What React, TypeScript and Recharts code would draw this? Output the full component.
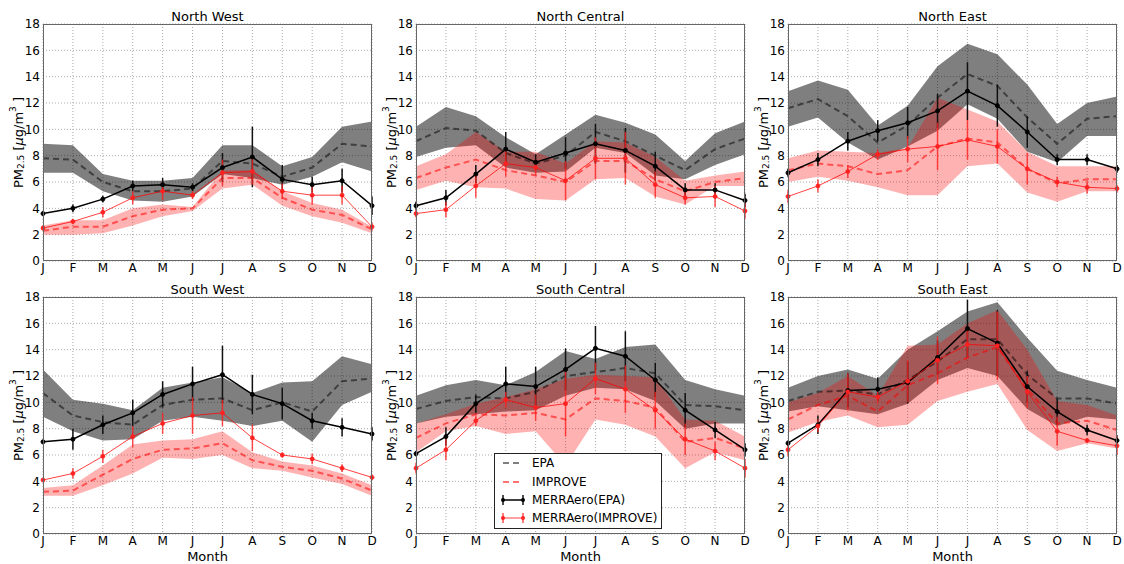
import React from 'react';
import { ComposedChart, Line, Area, XAxis, YAxis, CartesianGrid, ErrorBar } from 'recharts';

const months = ['J', 'F', 'M', 'A', 'M', 'J', 'J', 'A', 'S', 'O', 'N', 'D'];
const monthIdx = [0, 1, 2, 3, 4, 5, 6, 7, 8, 9, 10, 11];
const yTicks = [0, 2, 4, 6, 8, 10, 12, 14, 16, 18];

// North West
const nwEpa = [7.8, 7.7, 6.0, 5.3, 5.3, 5.5, 7.6, 7.4, 6.4, 7.1, 8.9, 8.7];
const nwEpaHi = [8.9, 8.8, 6.6, 6.1, 6.1, 6.3, 8.8, 8.8, 7.2, 7.9, 10.2, 10.6];
const nwEpaLo = [6.7, 6.7, 5.3, 4.6, 4.5, 4.9, 6.6, 6.3, 5.8, 6.4, 7.5, 6.8];
const nwImp = [2.3, 2.6, 2.6, 3.4, 3.9, 4.0, 6.3, 6.3, 4.8, 3.9, 3.5, 2.4];
const nwImpHi = [2.7, 3.1, 3.1, 4.0, 4.3, 4.1, 6.9, 6.9, 5.3, 4.4, 3.9, 2.6];
const nwImpLo = [2.0, 2.0, 2.1, 2.7, 3.4, 3.8, 5.5, 5.8, 4.2, 3.4, 2.9, 2.1];
const nwMe = [3.6, 4.0, 4.7, 5.7, 5.8, 5.6, 7.1, 7.9, 6.2, 5.8, 6.1, 4.2];
const nwMeErr = [0.1, 0.3, 0.25, 0.4, 0.5, 0.3, 1.1, 2.3, 1.1, 0.6, 0.9, 0.7];
const nwMi = [2.5, 3.0, 3.7, 4.8, 5.3, 5.0, 6.7, 6.8, 5.3, 5.0, 5.0, 2.6];
const nwMiErr = [0.2, 0.2, 0.4, 0.5, 0.7, 0.3, 1.0, 1.0, 0.6, 0.7, 0.7, 0.3];

// North Central
const ncEpa = [9.1, 10.1, 9.9, 8.2, 7.4, 8.0, 9.8, 9.1, 8.0, 6.9, 8.5, 9.3];
const ncEpaHi = [10.2, 11.7, 11.0, 9.4, 8.1, 9.6, 11.1, 10.5, 9.6, 7.6, 9.7, 10.6];
const ncEpaLo = [7.9, 8.6, 8.8, 7.1, 6.7, 6.8, 8.6, 8.2, 6.5, 6.2, 7.3, 8.1];
const ncImp = [6.3, 7.1, 7.7, 6.9, 6.5, 6.0, 7.6, 7.6, 6.2, 5.3, 6.0, 6.3];
const ncImpHi = [7.2, 8.1, 9.8, 8.3, 8.3, 7.4, 9.1, 9.0, 7.9, 6.1, 6.5, 6.8];
const ncImpLo = [5.4, 6.1, 5.6, 5.5, 4.7, 4.6, 6.2, 6.3, 4.9, 4.3, 5.7, 5.7];
const ncMe = [4.2, 4.8, 6.6, 8.5, 7.5, 8.2, 8.9, 8.4, 7.2, 5.4, 5.4, 4.6];
const ncMeErr = [0.3, 0.6, 0.7, 1.3, 0.6, 1.2, 1.5, 1.7, 1.1, 0.5, 0.5, 0.5];
const ncMi = [3.6, 3.9, 5.7, 7.4, 7.1, 6.1, 7.8, 7.8, 5.8, 4.8, 4.9, 3.8];
const ncMiErr = [0.3, 0.6, 0.9, 1.0, 0.6, 1.5, 1.6, 2.0, 1.0, 0.5, 0.8, 0.6];

// North East
const neEpa = [11.6, 12.3, 11.0, 9.0, 10.3, 12.4, 14.2, 13.3, 10.9, 8.9, 10.8, 11.0];
const neEpaHi = [12.9, 13.7, 13.0, 10.3, 11.8, 14.8, 16.5, 15.7, 13.4, 10.4, 12.0, 12.5];
const neEpaLo = [10.2, 10.9, 9.0, 7.7, 8.7, 9.9, 11.9, 10.8, 8.3, 7.5, 9.5, 9.5];
const neImp = [6.9, 7.4, 7.2, 6.6, 6.9, 8.7, 9.3, 9.0, 7.0, 5.9, 6.2, 6.2];
const neImpHi = [7.8, 8.4, 8.3, 8.2, 8.6, 12.4, 11.5, 10.6, 8.3, 7.2, 7.2, 7.2];
const neImpLo = [6.0, 6.4, 6.1, 5.6, 5.0, 5.0, 7.2, 7.4, 5.2, 4.5, 5.3, 5.3];
const neMe = [6.7, 7.7, 9.1, 9.9, 10.5, 11.4, 12.9, 11.8, 9.8, 7.7, 7.7, 7.0];
const neMeErr = [0.3, 0.5, 0.7, 0.8, 1.2, 1.3, 2.2, 1.6, 1.2, 0.4, 0.4, 0.3];
const neMi = [4.9, 5.7, 6.8, 8.1, 8.5, 8.7, 9.2, 8.7, 7.0, 6.0, 5.6, 5.5];
const neMiErr = [0.5, 0.5, 0.5, 0.4, 1.0, 1.8, 1.5, 1.3, 1.2, 0.4, 0.5, 0.3];

// South West
const swEpa = [10.7, 9.0, 8.5, 8.3, 9.8, 10.2, 10.3, 9.4, 10.0, 9.3, 11.6, 11.8];
const swEpaHi = [12.5, 10.2, 9.9, 9.4, 11.1, 11.5, 11.9, 10.7, 11.5, 11.6, 13.5, 12.9];
const swEpaLo = [8.9, 7.8, 7.1, 7.2, 8.6, 8.9, 8.6, 8.2, 8.6, 7.0, 9.8, 10.8];
const swImp = [3.2, 3.3, 4.5, 5.7, 6.4, 6.5, 6.9, 5.6, 5.1, 4.8, 4.2, 3.3];
const swImpHi = [3.5, 3.7, 5.2, 6.8, 7.1, 7.2, 7.8, 6.2, 5.5, 5.2, 4.6, 3.7];
const swImpLo = [2.9, 2.9, 3.7, 4.6, 5.8, 5.7, 6.0, 5.0, 4.8, 4.3, 3.8, 2.9];
const swMe = [7.0, 7.2, 8.3, 9.2, 10.6, 11.4, 12.1, 10.6, 9.9, 8.6, 8.1, 7.6];
const swMeErr = [0.05, 0.8, 0.7, 1.0, 1.0, 1.3, 2.2, 1.5, 1.2, 0.6, 0.7, 0.5];
const swMi = [4.1, 4.6, 5.9, 7.4, 8.4, 9.0, 9.2, 7.3, 6.0, 5.7, 5.0, 4.3];
const swMiErr = [0.1, 0.4, 0.5, 0.8, 0.8, 1.4, 1.0, 1.0, 0.2, 0.4, 0.3, 0.2];

// South Central
const scEpa = [9.5, 10.1, 10.4, 10.3, 10.8, 12.0, 12.3, 12.6, 12.2, 9.8, 9.7, 9.4];
const scEpaHi = [10.5, 11.3, 11.7, 11.3, 12.3, 13.9, 13.3, 14.2, 14.4, 11.7, 11.0, 10.5];
const scEpaLo = [8.4, 8.9, 9.1, 9.3, 9.4, 10.5, 11.1, 11.0, 10.1, 8.0, 8.4, 8.4];
const scImp = [7.3, 8.4, 9.1, 9.0, 9.2, 8.7, 10.3, 10.1, 9.6, 7.0, 7.3, 6.5];
const scImpHi = [8.4, 9.1, 9.9, 10.4, 11.0, 11.8, 12.1, 12.0, 11.9, 8.7, 8.6, 7.4];
const scImpLo = [6.2, 7.8, 8.2, 7.6, 7.8, 5.2, 8.7, 8.3, 7.4, 5.0, 6.2, 5.6];
const scMe = [6.1, 7.4, 9.9, 11.4, 11.2, 12.5, 14.1, 13.5, 11.7, 9.4, 7.9, 6.4];
const scMeErr = [0.2, 0.7, 0.7, 1.3, 1.5, 1.6, 1.7, 1.9, 1.3, 1.3, 0.6, 0.5];
const scMi = [5.0, 6.4, 8.6, 10.2, 9.6, 9.9, 11.8, 11.0, 9.4, 7.2, 6.3, 5.0];
const scMiErr = [0.4, 0.8, 0.4, 0.6, 1.0, 2.5, 1.2, 1.8, 1.4, 1.2, 0.7, 0.7];

// South East
const seEpa = [10.1, 10.8, 10.9, 10.6, 11.7, 13.1, 14.8, 14.8, 12.1, 10.3, 10.3, 9.9];
const seEpaHi = [11.1, 12.0, 12.5, 11.8, 14.0, 15.4, 16.9, 17.6, 14.9, 12.4, 11.7, 11.1];
const seEpaLo = [9.3, 9.7, 9.4, 9.1, 9.9, 11.7, 12.6, 12.0, 9.5, 8.2, 8.9, 8.7];
const seImp = [8.7, 9.8, 10.5, 9.3, 11.3, 12.2, 13.4, 14.2, 11.0, 8.4, 8.6, 7.9];
const seImpHi = [10.0, 10.7, 12.0, 10.5, 14.3, 14.4, 16.0, 17.0, 14.0, 10.1, 9.8, 9.0];
const seImpLo = [7.7, 8.5, 9.0, 8.1, 8.3, 10.1, 10.8, 11.4, 7.9, 6.3, 6.9, 6.5];
const seMe = [6.9, 8.3, 10.9, 11.0, 11.5, 13.4, 15.6, 14.5, 11.2, 9.3, 7.9, 7.1];
const seMeErr = [0.2, 0.7, 1.3, 0.9, 1.6, 1.3, 2.2, 2.5, 1.2, 1.0, 0.4, 0.4];
const seMi = [6.4, 8.2, 10.8, 10.4, 11.6, 13.2, 14.4, 14.3, 10.8, 7.8, 7.1, 6.7];
const seMiErr = [0.5, 0.5, 1.4, 0.5, 1.6, 1.8, 1.1, 2.6, 1.2, 1.1, 0.2, 0.7];

type Region = {
  title: string;
  epa: number[]; epaLo: number[]; epaHi: number[];
  imp: number[]; impLo: number[]; impHi: number[];
  me: number[]; meErr: number[]; mi: number[]; miErr: number[];
};

const regions: Region[] = [
  { title: 'North West', epa: nwEpa, epaLo: nwEpaLo, epaHi: nwEpaHi, imp: nwImp, impLo: nwImpLo, impHi: nwImpHi, me: nwMe, meErr: nwMeErr, mi: nwMi, miErr: nwMiErr },
  { title: 'North Central', epa: ncEpa, epaLo: ncEpaLo, epaHi: ncEpaHi, imp: ncImp, impLo: ncImpLo, impHi: ncImpHi, me: ncMe, meErr: ncMeErr, mi: ncMi, miErr: ncMiErr },
  { title: 'North East', epa: neEpa, epaLo: neEpaLo, epaHi: neEpaHi, imp: neImp, impLo: neImpLo, impHi: neImpHi, me: neMe, meErr: neMeErr, mi: neMi, miErr: neMiErr },
  { title: 'South West', epa: swEpa, epaLo: swEpaLo, epaHi: swEpaHi, imp: swImp, impLo: swImpLo, impHi: swImpHi, me: swMe, meErr: swMeErr, mi: swMi, miErr: swMiErr },
  { title: 'South Central', epa: scEpa, epaLo: scEpaLo, epaHi: scEpaHi, imp: scImp, impLo: scImpLo, impHi: scImpHi, me: scMe, meErr: scMeErr, mi: scMi, miErr: scMiErr },
  { title: 'South East', epa: seEpa, epaLo: seEpaLo, epaHi: seEpaHi, imp: seImp, impLo: seImpLo, impHi: seImpHi, me: seMe, meErr: seMeErr, mi: seMi, miErr: seMiErr },
];

const FONT = 'DejaVu Sans, Verdana, sans-serif';
const PLOT_LEFT = [43, 416, 788];
const PLOT_TOP = [24, 297];
const PLOT_W = 329;
const PLOT_H = 237;
const tickStyle = { fontSize: 12, fill: '#000', fontFamily: FONT };

function Panel({ r, plotLeft, plotTop }: { r: Region; plotLeft: number; plotTop: number }) {
  const data = monthIdx.map(i => ({
    x: i,
    epaBand: [r.epaLo[i], r.epaHi[i]],
    impBand: [r.impLo[i], r.impHi[i]],
    epa: r.epa[i],
    imp: r.imp[i],
    me: r.me[i],
    meErr: r.meErr[i],
    mi: r.mi[i],
    miErr: r.miErr[i],
  }));

  return (
    <div style={{ position: 'absolute', left: plotLeft - 42, top: plotTop - 24 }}>
      <ComposedChart width={381} height={283} data={data} margin={{ top: 24, right: 10, left: 12, bottom: 2 }}>
        <CartesianGrid stroke="#aaa" strokeDasharray="1 2" />
        <XAxis
          dataKey="x"
          type="number"
          domain={[0, 11]}
          ticks={monthIdx}
          interval={0}
          tickFormatter={(v: number) => months[v]}
          axisLine={false}
          tickLine={false}
          tickSize={0}
          tickMargin={2}
          height={20}
          tick={tickStyle}
        />
        <YAxis
          type="number"
          domain={[0, 18]}
          ticks={yTicks}
          interval={0}
          width={30}
          axisLine={false}
          tickLine={false}
          tickSize={0}
          tickMargin={3}
          tick={tickStyle}
        />
        <Area dataKey="epaBand" stroke="none" fill="#000" fillOpacity={0.5} dot={false} activeDot={false} isAnimationActive={false} />
        <Area dataKey="impBand" stroke="none" fill="#ff0000" fillOpacity={0.3} dot={false} activeDot={false} isAnimationActive={false} />
        <Line dataKey="epa" stroke="#000" strokeOpacity={0.5} strokeWidth={2} strokeDasharray="6 4" dot={false} activeDot={false} isAnimationActive={false} />
        <Line dataKey="imp" stroke="#ff0000" strokeOpacity={0.55} strokeWidth={2} strokeDasharray="6 4" dot={false} activeDot={false} isAnimationActive={false} />
        <Line dataKey="me" stroke="#000" strokeWidth={1.5} dot={{ r: 2, fill: '#000', stroke: '#000', strokeWidth: 1 }} activeDot={false} isAnimationActive={false}>
          <ErrorBar dataKey="meErr" width={0} stroke="#111" strokeWidth={1.5} direction="y" isAnimationActive={false} />
        </Line>
        <Line dataKey="mi" stroke="#ff0000" strokeOpacity={0.75} strokeWidth={1} dot={{ r: 2, fill: '#ff2020', stroke: '#ff2020', strokeWidth: 1 }} activeDot={false} isAnimationActive={false}>
          <ErrorBar dataKey="miErr" width={0} stroke="#ff2020" strokeOpacity={0.8} strokeWidth={1.5} direction="y" isAnimationActive={false} />
        </Line>
      </ComposedChart>
    </div>
  );
}

function Legend() {
  const rows = [9, 28, 46, 64];
  return (
    <svg width={168} height={76} style={{ position: 'absolute', left: 494, top: 453, background: '#fff', border: '1px solid #222', boxSizing: 'border-box' }}>
      <line x1={8} x2={28} y1={rows[0]} y2={rows[0]} stroke="#000" strokeOpacity={0.5} strokeWidth={2} strokeDasharray="6 4" />
      <line x1={8} x2={28} y1={rows[1]} y2={rows[1]} stroke="#ff0000" strokeOpacity={0.55} strokeWidth={2} strokeDasharray="6 4" />
      <line x1={8} x2={28} y1={rows[2]} y2={rows[2]} stroke="#000" strokeWidth={1.5} />
      {[8, 28].map(x => (
        <g key={'k' + x}>
          <line x1={x} x2={x} y1={rows[2] - 5} y2={rows[2] + 5} stroke="#111" strokeWidth={1.5} />
          <circle cx={x} cy={rows[2]} r={2} fill="#000" />
        </g>
      ))}
      <line x1={8} x2={28} y1={rows[3]} y2={rows[3]} stroke="#ff0000" strokeOpacity={0.75} strokeWidth={1} />
      {[8, 28].map(x => (
        <g key={'r' + x}>
          <line x1={x} x2={x} y1={rows[3] - 5} y2={rows[3] + 5} stroke="#ff2020" strokeOpacity={0.8} strokeWidth={1.5} />
          <circle cx={x} cy={rows[3]} r={2} fill="#ff2020" />
        </g>
      ))}
      {['EPA', 'IMPROVE', 'MERRAero(EPA)', 'MERRAero(IMPROVE)'].map((t, i) => (
        <text key={t} x={37} y={rows[i]} dominantBaseline="central" fontSize={12} fontFamily={FONT} fill="#000">{t}</text>
      ))}
    </svg>
  );
}

export default function App() {
  return (
    <div style={{ position: 'absolute', left: 0, top: 0, width: 1124, height: 564, background: '#fff', overflow: 'hidden' }}>
      {regions.map((r, i) => (
        <Panel key={r.title} r={r} plotLeft={PLOT_LEFT[i % 3]} plotTop={PLOT_TOP[Math.floor(i / 3)]} />
      ))}
      <svg width={1124} height={564} style={{ position: 'absolute', left: 0, top: 0, pointerEvents: 'none' }}>
        {regions.map((r, i) => {
          const px = PLOT_LEFT[i % 3];
          const py = PLOT_TOP[Math.floor(i / 3)];
          const cy = py + PLOT_H / 2;
          const lx = px - 25;
          return (
            <g key={r.title}>
              <rect x={px + 0.5} y={py + 0.5} width={PLOT_W - 1} height={PLOT_H - 1} fill="none" stroke="#666" strokeWidth={1} />
              <text x={px + PLOT_W / 2} y={py - 3} textAnchor="middle" fontSize={13} fontFamily={FONT} fill="#000">{r.title}</text>
              <text transform={`translate(${lx},${cy}) rotate(-90)`} textAnchor="middle" dominantBaseline="central" fontSize={13} fontFamily={FONT} fill="#000">
                PM<tspan fontSize={9} dy={3}>2.5</tspan>
                <tspan dy={-3}> [</tspan>
                <tspan fontStyle="italic">μ</tspan>
                <tspan>g/m</tspan>
                <tspan fontSize={9} dy={-5}>3</tspan>
                <tspan dy={5}> ]</tspan>
              </text>
              {i >= 3 && (
                <text x={px + PLOT_W / 2} y={561} textAnchor="middle" fontSize={13} fontFamily={FONT} fill="#000">Month</text>
              )}
            </g>
          );
        })}
      </svg>
      <Legend />
    </div>
  );
}
